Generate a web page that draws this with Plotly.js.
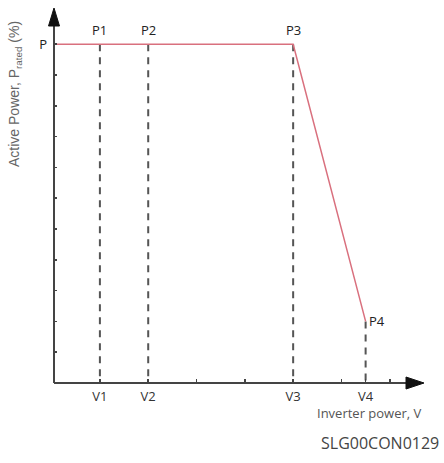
<!DOCTYPE html>
<html>
<head>
<meta charset="utf-8">
<script src="https://cdn.plot.ly/plotly-3.0.1.min.js"></script>
<style>html,body{margin:0;padding:0;background:#fff;}#chart{width:444px;height:463px;}</style>
</head>
<body>
<div id="chart"></div>
<script>
// Data (schematic units)
const pointNames = ['P1', 'P2', 'P3', 'P4'];
const voltageNames = ['V1', 'V2', 'V3', 'V4'];
const voltages = [1, 2, 5, 6.5];
const powers = [11, 11, 11, 2];
const curveX = [0, 5, 6.5];
const curveY = [11, 11, 2];
const xTickVals = [1, 2, 3, 4, 5, 6, 6.5, 7];
const xTickText = ['V1', 'V2', '', '', 'V3', '', 'V4', ''];
const yTickVals = [1, 2, 3, 4, 5, 6, 7, 8, 9, 10, 11];
const yTickText = ['', '', '', '', '', '', '', '', '', '', 'P'];

const xMin = 0.05, xMax = 7.667, yMin = 0, yMax = 12.11;

// plot area in pixels: x 54..422, y 10..383
const W = 368, H = 373, L = 54, B = 383;
const px = p => (p - L) / W;
const py = p => (B - p) / H;

const traces = [];
voltages.forEach((v, i) => {
  traces.push({
    x: [v, v], y: [powers[i], 0], mode: 'lines', type: 'scatter',
    line: {color: '#555', width: 2, dash: '7px,6px'}, hoverinfo: 'skip', showlegend: false
  });
});
traces.push({
  x: curveX, y: curveY, mode: 'lines', type: 'scatter',
  line: {color: '#d9707e', width: 1.5}, hoverinfo: 'skip', showlegend: false
});

const axisColor = '#444';
const shapes = [
  {type: 'line', xref: 'paper', yref: 'paper', x0: 0, y0: 0, x1: px(410), y1: 0, line: {color: axisColor, width: 2}},
  {type: 'line', xref: 'paper', yref: 'paper', x0: 0, y0: 0, x1: 0, y1: py(22), line: {color: axisColor, width: 2}},
  {type: 'path', xref: 'paper', yref: 'paper',
    path: `M ${px(406)} ${py(377)} L ${px(424)} ${py(383)} L ${px(406)} ${py(389)} Z`,
    fillcolor: '#111', line: {color: '#111', width: 1}},
  {type: 'path', xref: 'paper', yref: 'paper',
    path: `M ${px(48.5)} ${py(26)} L ${px(54)} ${py(8)} L ${px(59.5)} ${py(26)} Z`,
    fillcolor: '#111', line: {color: '#111', width: 1}}
];

const annotations = [];
pointNames.forEach((n, i) => {
  if (i < 3) {
    annotations.push({x: voltages[i], y: powers[i], xref: 'x', yref: 'y', text: n, showarrow: false,
      yanchor: 'bottom', yshift: 3, font: {family: 'Open Sans', size: 13, color: '#222'}});
  } else {
    annotations.push({x: voltages[i], y: powers[i], xref: 'x', yref: 'y', text: n, showarrow: false,
      xanchor: 'left', yanchor: 'middle', xshift: 1, font: {family: 'Open Sans', size: 13, color: '#222'}});
  }
});
annotations.push({x: px(15), y: py(94), xref: 'paper', yref: 'paper', textangle: -90,
  text: 'Active Power, P<sub>rated</sub> (%)', showarrow: false, xanchor: 'center', yanchor: 'middle',
  font: {family: 'Liberation Sans', size: 14, color: '#666'}});
annotations.push({x: px(424), y: py(413), xref: 'paper', yref: 'paper', text: 'Inverter power, V',
  showarrow: false, xanchor: 'right', yanchor: 'middle', font: {family: 'Open Sans', size: 13, color: '#555'}});
annotations.push({x: px(441), y: py(443), xref: 'paper', yref: 'paper', text: 'SLG00CON0129',
  showarrow: false, xanchor: 'right', yanchor: 'middle', font: {family: 'Open Sans', size: 16, color: '#444'}});

const layout = {
  width: 444, height: 463,
  margin: {l: 54, r: 22, t: 10, b: 80},
  paper_bgcolor: '#fff', plot_bgcolor: '#fff',
  showlegend: false,
  xaxis: {range: [xMin, xMax], showgrid: false, zeroline: false, showline: false,
    tickmode: 'array', tickvals: xTickVals, ticktext: xTickText, ticks: 'inside', ticklen: 4,
    tickwidth: 1.5, tickcolor: '#444', ticklabelstandoff: 4,
    tickfont: {family: 'Open Sans', size: 13, color: '#333'}},
  yaxis: {range: [yMin, yMax], showgrid: false, zeroline: false, showline: false,
    tickmode: 'array', tickvals: yTickVals, ticktext: yTickText, ticks: 'inside', ticklen: 3,
    tickwidth: 1.5, tickcolor: '#444', ticklabelstandoff: 6,
    tickfont: {family: 'Open Sans', size: 13, color: '#222'}},
  shapes: shapes,
  annotations: annotations
};

Plotly.newPlot('chart', traces, layout, {staticPlot: true, displayModeBar: false});
</script>
</body>
</html>
